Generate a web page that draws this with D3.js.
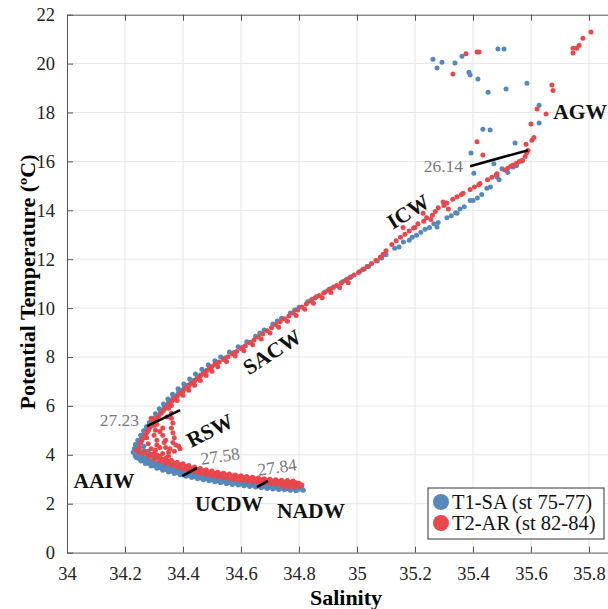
<!DOCTYPE html>
<html>
<head>
<meta charset="utf-8">
<script src="https://cdn.jsdelivr.net/npm/d3@7"></script>
<style>
  body { margin: 0; background: #fff; }
  svg, svg text { font-family: 'Liberation Serif', serif; }
</style>
</head>
<body>
<svg width="608" height="609" font-family="Liberation Serif"></svg>
<script>
// T-S points: [salinity, potential temperature]
var t1Points = [
  // deep tail, blue band (under the red one)
  [34.81,2.60],[34.79,2.58],[34.77,2.61],[34.75,2.63],[34.73,2.64],[34.71,2.66],[34.69,2.68],[34.67,2.71],
  [34.65,2.74],[34.63,2.76],[34.61,2.79],[34.59,2.82],[34.57,2.85],[34.55,2.88],[34.53,2.92],[34.51,2.96],
  [34.49,3.00],[34.47,3.04],[34.45,3.08],[34.43,3.13],[34.41,3.18],[34.39,3.24],[34.37,3.30],[34.35,3.36],
  [34.33,3.43],[34.31,3.51],[34.29,3.60],[34.27,3.70],[34.25,3.83],[34.235,3.96],[34.228,4.10],
  [34.80,2.70],[34.78,2.70],[34.76,2.72],[34.74,2.74],[34.72,2.76],[34.70,2.78],[34.68,2.80],[34.66,2.83],
  [34.64,2.85],[34.62,2.88],[34.60,2.91],[34.58,2.94],[34.56,2.97],[34.54,3.01],[34.52,3.05],[34.50,3.09],
  [34.48,3.14],[34.46,3.18],[34.44,3.23],[34.42,3.28],[34.40,3.34],[34.38,3.40],[34.36,3.47],[34.34,3.54],
  [34.32,3.62],[34.30,3.70],[34.28,3.80],[34.26,3.92],[34.245,4.04],
  [34.80,2.59],[34.78,2.60],[34.76,2.62],[34.74,2.635],[34.72,2.65],[34.70,2.67],[34.68,2.695],[34.66,2.725],
  [34.64,2.75],[34.62,2.775],[34.60,2.805],[34.58,2.835],[34.56,2.865],[34.54,2.90],[34.52,2.94],[34.50,2.98],
  [34.48,3.02],[34.46,3.06],[34.44,3.105],[34.42,3.155],[34.40,3.21],[34.38,3.27],[34.36,3.33],[34.34,3.395],
  [34.32,3.47],[34.30,3.555],[34.28,3.65],[34.26,3.765],[34.245,3.89],
  [34.79,2.70],[34.77,2.71],[34.75,2.73],[34.73,2.75],[34.71,2.77],[34.69,2.79],[34.67,2.815],[34.65,2.84],
  [34.63,2.865],[34.61,2.895],[34.59,2.925],[34.57,2.955],[34.55,2.99],[34.53,3.03],[34.51,3.07],[34.49,3.115],
  [34.47,3.16],[34.45,3.205],[34.43,3.255],[34.41,3.31],[34.39,3.37],[34.37,3.435],[34.35,3.505],[34.33,3.58],
  [34.31,3.66],[34.29,3.75],[34.27,3.86],[34.255,3.98],
  [34.815,2.55],[34.79,2.53],[34.77,2.55],[34.75,2.57],[34.73,2.58],[34.71,2.60],[34.69,2.62],[34.67,2.65],
  [34.65,2.68],[34.63,2.70],[34.61,2.73],[34.59,2.76],[34.57,2.79],[34.55,2.82],[34.53,2.86],[34.51,2.90],
  [34.49,2.94],[34.47,2.98],[34.45,3.02],[34.43,3.07],[34.41,3.12],[34.39,3.18],[34.37,3.24],[34.35,3.30],
  [34.33,3.37],[34.31,3.45],[34.29,3.54],[34.27,3.64],[34.255,3.75],[34.24,3.88],
  // inner loop
  [34.265,4.18],[34.275,4.05],[34.29,3.95],[34.30,3.88],[34.265,4.35],[34.28,4.15],[34.25,4.15],
  // upper branch, outer edge
  [34.232,4.25],[34.236,4.42],[34.244,4.60],[34.254,4.80],[34.264,4.98],[34.274,5.15],[34.284,5.32],[34.294,5.50],
  [34.305,5.68],[34.318,5.88],[34.333,6.08],[34.348,6.28],[34.364,6.48],[34.383,6.70],[34.403,6.90],[34.423,7.10],
  [34.443,7.30],[34.465,7.50],[34.487,7.68],[34.51,7.85],[34.53,8.00],[34.56,8.20],[34.59,8.42],[34.62,8.62],
  [34.65,8.85],[34.68,9.10],[34.71,9.35],[34.74,9.58],[34.77,9.80],[34.80,10.03],[34.83,10.26],[34.86,10.46],
  [34.89,10.66],[34.92,10.86],[34.95,11.08],[34.98,11.28],[35.01,11.50],[35.04,11.70],[35.07,11.93],[35.10,12.18],
  [34.245,4.35],[34.252,4.55],[34.26,4.72],[34.27,4.90],[34.28,5.08],[34.292,5.26],[34.302,5.44],[34.315,5.62],
  [34.328,5.82],[34.342,6.00],[34.358,6.22],[34.376,6.42],[34.396,6.64],[34.416,6.84],[34.438,7.05],[34.46,7.26],
  [34.482,7.46],
  [34.238,4.32],[34.248,4.50],[34.257,4.68],[34.266,4.86],[34.276,5.04],[34.287,5.22],[34.297,5.40],[34.309,5.58],
  [34.322,5.76],[34.335,5.95],[34.35,6.15],[34.366,6.36],[34.385,6.56],[34.405,6.76],[34.427,6.96],[34.449,7.16],
  [34.471,7.38],[34.495,7.58],[34.52,7.78],[34.545,7.96],[34.575,8.18],[34.605,8.40],[34.635,8.60],
  [34.665,8.98],[34.725,9.47],[34.785,9.92],[34.845,10.36],[34.905,10.78],[34.965,11.18],[35.025,11.60],[35.085,12.05],
  // ICW, lower path
  [35.13,12.45],[35.16,12.70],[35.19,12.90],[35.22,13.10],[35.25,13.30],[35.28,13.50],[35.31,13.70],[35.34,13.90],
  [35.37,14.15],[35.40,14.40],[35.43,14.65],[35.46,14.95],[35.49,15.25],[35.52,15.55],[35.55,15.82],[35.57,16.02],
  [35.18,12.78],[35.276,13.32],[35.345,13.88],[35.39,14.40],[35.448,14.90],[35.483,15.36],[35.538,15.77],
  [35.145,12.50],[35.205,12.98],[35.235,13.22],[35.265,13.45],[35.325,13.78],[35.355,14.05],[35.415,14.50],
  // scattered surface points
  [35.262,20.18],[35.276,19.82],[35.293,20.06],[35.338,20.02],[35.362,20.30],[35.486,20.60],[35.507,20.60],
  [35.386,19.65],[35.39,19.53],[35.417,19.37],[35.452,18.83],[35.514,18.96],[35.586,19.20],[35.628,18.30],
  [35.628,17.57],[35.434,17.32],[35.459,17.28],[35.545,16.75],[35.393,16.34],[35.403,15.52],[35.472,15.90],
  [35.50,15.70]
];

var t2Points = [
  // deep tail, red band above the blue one
  [34.80,2.72],[34.78,2.76],[34.76,2.78],[34.74,2.79],[34.72,2.81],[34.70,2.83],[34.68,2.85],[34.66,2.88],
  [34.64,2.90],[34.62,2.93],[34.60,2.96],[34.58,2.99],[34.56,3.02],[34.54,3.06],[34.52,3.10],[34.50,3.14],
  [34.48,3.19],[34.46,3.24],[34.44,3.30],[34.42,3.36],[34.40,3.42],[34.38,3.49],[34.36,3.57],[34.34,3.65],
  [34.32,3.74],[34.30,3.84],[34.28,3.94],[34.26,4.04],[34.245,4.14],
  [34.79,2.86],[34.77,2.88],[34.75,2.89],[34.73,2.91],[34.71,2.93],[34.69,2.95],[34.67,2.98],[34.65,3.01],
  [34.63,3.04],[34.61,3.07],[34.59,3.10],[34.57,3.13],[34.55,3.17],[34.53,3.21],[34.51,3.25],[34.49,3.30],
  [34.47,3.35],[34.45,3.40],[34.43,3.46],[34.41,3.52],[34.39,3.59],[34.37,3.66],[34.35,3.74],[34.33,3.82],
  [34.31,3.92],[34.29,4.02],[34.27,4.12],
  [34.81,2.76],[34.79,2.79],[34.77,2.82],[34.75,2.835],[34.73,2.85],[34.71,2.87],[34.69,2.89],[34.67,2.915],
  [34.65,2.945],[34.63,2.97],[34.61,3.00],[34.59,3.03],[34.57,3.06],[34.55,3.10],[34.53,3.14],[34.51,3.18],
  [34.49,3.23],[34.47,3.28],[34.45,3.33],[34.43,3.39],[34.41,3.45],[34.39,3.52],[34.37,3.60],[34.35,3.68],
  [34.33,3.77],[34.31,3.87],[34.29,3.97],[34.27,4.07],
  [34.78,2.93],[34.76,2.95],[34.74,2.96],[34.72,2.98],[34.70,3.00],[34.68,3.02],[34.66,3.05],[34.64,3.08],
  [34.62,3.11],[34.60,3.14],[34.58,3.17],[34.56,3.21],[34.54,3.25],[34.52,3.29],[34.50,3.34],[34.48,3.39],
  [34.46,3.44],[34.44,3.50],[34.42,3.56],[34.40,3.63],[34.38,3.70],[34.36,3.78],[34.34,3.86],[34.32,3.95],
  [34.30,4.05],
  [34.785,2.66],[34.765,2.68],[34.745,2.70],[34.80,2.84],[34.78,2.90],
  // upper branch, inside the blue one
  [34.25,4.30],[34.255,4.50],[34.265,4.70],[34.275,4.90],[34.285,5.10],[34.295,5.30],[34.31,5.50],[34.325,5.70],
  [34.34,5.90],[34.355,6.10],[34.37,6.30],[34.39,6.50],[34.41,6.72],[34.43,6.92],[34.45,7.12],[34.47,7.32],
  [34.49,7.52],[34.51,7.70],[34.54,7.90],[34.57,8.12],[34.60,8.35],[34.63,8.58],[34.66,8.82],[34.69,9.07],
  [34.72,9.32],[34.75,9.56],[34.78,9.80],[34.81,10.05],[34.84,10.30],[34.87,10.52],[34.90,10.72],[34.93,10.92],
  [34.96,11.13],[34.99,11.35],[35.02,11.58],[35.05,11.82],[35.08,12.08],[35.10,12.35],
  [34.36,6.02],[34.38,6.22],[34.40,6.44],[34.42,6.64],[34.44,6.84],[34.46,7.04],[34.48,7.24],[34.50,7.42],
  [34.52,7.60],[34.55,7.82],[34.58,8.04],[34.61,8.26],[34.64,8.50],[34.67,8.74],[34.70,8.98],[34.73,9.22],
  [34.76,9.46],[34.79,9.70],[34.82,9.95],[34.85,10.20],[34.88,10.42],[34.91,10.64],[34.94,10.84],[34.97,11.04],
  [34.258,4.60],[34.27,4.80],[34.28,5.00],[34.29,5.20],[34.303,5.40],[34.317,5.60],[34.332,5.80],[34.347,6.00],
  [34.363,6.20],[34.38,6.40],[34.40,6.60],[34.42,6.82],[34.44,7.02],[34.46,7.22],[34.48,7.42],[34.50,7.61],
  [34.525,7.80],[34.555,8.01],[34.585,8.23],[34.615,8.46],[34.645,8.70],[34.675,8.94],[34.705,9.20],[34.735,9.44],
  [34.765,9.68],[34.795,9.92],[34.825,10.17],[34.855,10.41],[34.885,10.62],[34.915,10.82],[34.945,11.03],[34.975,11.24],
  [35.005,11.46],[35.035,11.70],[35.065,11.95],[35.09,12.20],
  // RSW interior
  [34.30,5.40],[34.30,5.20],[34.305,5.00],[34.30,4.80],[34.31,4.60],[34.31,4.40],[34.305,4.20],[34.31,4.00],
  [34.32,3.90],[34.33,5.10],[34.33,4.80],[34.335,4.50],[34.34,4.30],[34.35,4.10],[34.36,5.70],[34.36,5.50],
  [34.365,5.30],[34.36,5.10],[34.365,4.90],[34.37,4.70],[34.365,4.50],[34.375,4.40],[34.385,4.35],[34.39,4.25],
  [34.37,4.15],[34.35,3.95],[34.34,4.60],[34.32,4.30],[34.29,4.25],[34.28,4.45],[34.275,4.70],[34.28,5.00],
  [34.29,5.50],[34.345,5.55],[34.35,5.90],[34.31,5.25],[34.32,4.95],[34.355,4.25],[34.33,4.05],[34.24,4.20],
  // ICW, upper path
  [35.12,12.60],[35.15,12.90],[35.18,13.15],[35.21,13.45],[35.24,13.70],[35.27,13.95],[35.30,14.20],[35.33,14.45],
  [35.36,14.65],[35.39,14.85],[35.42,15.05],[35.45,15.25],[35.48,15.45],[35.51,15.65],[35.53,15.80],[35.55,15.92],
  [35.57,16.05],[35.58,16.20],[35.585,16.35],[35.59,16.45],
  [35.20,13.30],[35.23,13.55],[35.26,13.80],[35.28,14.10],[35.31,14.30],[35.159,13.30],[35.228,13.88],[35.297,14.34],
  [35.366,14.70],[35.424,15.10],[35.483,15.50],[35.538,15.85],[35.52,15.72],[35.56,16.00],
  [35.135,12.75],[35.165,13.02],[35.195,13.28],[35.255,13.62],[35.315,14.05],[35.345,14.55],[35.405,14.95],[35.465,15.35],
  // scattered surface points
  [35.376,20.40],[35.414,20.47],[35.421,20.47],[35.331,19.57],[35.672,19.12],[35.676,18.90],[35.652,17.94],
  [35.414,16.80],[35.434,16.26],[35.60,17.53],[35.621,18.14],[35.603,16.87],[35.61,16.98],[35.583,16.70],
  [35.745,20.43],[35.745,20.63],[35.758,20.63],[35.766,20.75],[35.779,21.04],[35.807,21.29]
];

var series = [
  {name: "T1-SA (st 75-77)", color: "#5588bb", points: t1Points},
  {name: "T2-AR (st 82-84)", color: "#e8474c", points: t2Points}
];

// isopycnal segments and their labels
var isopycnals = [
  {label: "26.14", from: [35.39, 15.80], to: [35.59, 16.46]},
  {label: "27.23", from: [34.276, 5.17], to: [34.39, 5.83]},
  {label: "27.58", from: [34.397, 3.13], to: [34.448, 3.46]},
  {label: "27.84", from: [34.655, 2.68], to: [34.693, 2.93]}
];

var waterMasses = ["AGW", "ICW", "SACW", "RSW", "AAIW", "UCDW", "NADW"];

var xTicks = [34, 34.2, 34.4, 34.6, 34.8, 35, 35.2, 35.4, 35.6, 35.8];
var yTicks = [0, 2, 4, 6, 8, 10, 12, 14, 16, 18, 20, 22];

var svg = d3.select("svg");
var margin = {top: 14.7, left: 67};

var xScale = d3.scaleLinear().domain([34, 35.87]).range([margin.left, margin.left + 1.87 * 290]);
var yScale = d3.scaleLinear().domain([0, 22]).range([552.6, margin.top]);

// grid
var grid = svg.append("g");
grid.selectAll(".gx").data(xTicks.slice(1)).enter().append("line")
  .attr("x1", function(d) { return xScale(d); }).attr("x2", function(d) { return xScale(d); })
  .attr("y1", yScale(0)).attr("y2", yScale(22))
  .attr("stroke", "#e6e6e6").attr("stroke-width", 1);
grid.selectAll(".gy").data(yTicks.slice(1, -1)).enter().append("line")
  .attr("x1", xScale(34)).attr("x2", xScale(35.87))
  .attr("y1", function(d) { return yScale(d); }).attr("y2", function(d) { return yScale(d); })
  .attr("stroke", "#e6e6e6").attr("stroke-width", 1);

// axes, ticks drawn inward
var fmt = function(d) { return String(+d.toFixed(1)); };
var gX = svg.append("g")
  .attr("transform", "translate(0," + yScale(0) + ")")
  .call(d3.axisBottom(xScale).tickValues(xTicks).tickFormat(fmt).tickSizeInner(-6).tickSizeOuter(0).tickPadding(14));
var gXTop = svg.append("g")
  .attr("transform", "translate(0," + yScale(22) + ")")
  .call(d3.axisTop(xScale).tickValues(xTicks).tickFormat("").tickSizeInner(-6).tickSizeOuter(0));
var gY = svg.append("g")
  .attr("transform", "translate(" + xScale(34) + ",0)")
  .call(d3.axisLeft(yScale).tickValues(yTicks).tickSizeInner(-6).tickSizeOuter(0).tickPadding(12));

svg.selectAll("g").attr("font-family", "Liberation Serif");
svg.selectAll(".domain").attr("stroke", "#555");
svg.selectAll(".tick line").attr("stroke", "#555");
svg.selectAll(".tick text")
  .attr("font-family", "Liberation Serif")
  .attr("font-size", 18.5)
  .attr("fill", "#222");

// points
series.forEach(function(s) {
  svg.append("g").selectAll("circle").data(s.points).enter().append("circle")
    .attr("cx", function(d) { return xScale(d[0]); })
    .attr("cy", function(d) { return yScale(d[1]); })
    .attr("r", 2.5)
    .attr("fill", s.color);
});

// isopycnal lines
svg.append("g").selectAll("line").data(isopycnals).enter().append("line")
  .attr("x1", function(d) { return xScale(d.from[0]); })
  .attr("y1", function(d) { return yScale(d.from[1]); })
  .attr("x2", function(d) { return xScale(d.to[0]); })
  .attr("y2", function(d) { return yScale(d.to[1]); })
  .attr("stroke", "#000").attr("stroke-width", 2.6);

var isoPos = [
  {x: 463, y: 172, anchor: "end", rot: 0},
  {x: 139, y: 426, anchor: "end", rot: 0},
  {x: 221, y: 462, anchor: "middle", rot: -8},
  {x: 278, y: 473, anchor: "middle", rot: -8}
];
svg.append("g").selectAll("text").data(isopycnals).enter().append("text")
  .attr("transform", function(d, i) { var p = isoPos[i]; return "translate(" + p.x + "," + p.y + ") rotate(" + p.rot + ")"; })
  .attr("text-anchor", function(d, i) { return isoPos[i].anchor; })
  .attr("font-family", "Liberation Serif")
  .attr("font-size", 17.5)
  .attr("fill", "#7a7a7a")
  .text(function(d) { return d.label; });

// water mass names
var massPos = [
  {x: 580, y: 119, rot: 0},
  {x: 412, y: 218, rot: -32},
  {x: 276, y: 358, rot: -33},
  {x: 213, y: 437, rot: -27},
  {x: 104, y: 488, rot: 0},
  {x: 229, y: 511, rot: 0},
  {x: 311, y: 518, rot: 0}
];
svg.append("g").selectAll("text").data(waterMasses).enter().append("text")
  .attr("transform", function(d, i) { var p = massPos[i]; return "translate(" + p.x + "," + p.y + ") rotate(" + p.rot + ")"; })
  .attr("text-anchor", "middle")
  .attr("font-family", "Liberation Serif")
  .attr("font-size", 21.5)
  .attr("font-weight", "bold")
  .attr("fill", "#111")
  .text(function(d) { return d; });

// axis titles
svg.append("text")
  .attr("x", 346).attr("y", 605)
  .attr("text-anchor", "middle")
  .attr("font-family", "Liberation Serif")
  .attr("font-size", 22).attr("font-weight", "bold")
  .text("Salinity");
svg.append("text")
  .attr("transform", "translate(35,282) rotate(-90)")
  .attr("text-anchor", "middle")
  .attr("font-family", "Liberation Serif")
  .attr("font-size", 22).attr("font-weight", "bold")
  .text("Potential Temperature (ºC)");

// legend
var legend = svg.append("g").attr("transform", "translate(428,488)");
legend.append("rect")
  .attr("width", 176).attr("height", 51)
  .attr("fill", "#fff").attr("stroke", "#333").attr("stroke-width", 1);
var items = legend.selectAll(".item").data(series).enter().append("g")
  .attr("transform", function(d, i) { return "translate(0," + (14 + i * 21) + ")"; });
items.append("circle").attr("cx", 13).attr("cy", 0).attr("r", 8).attr("fill", function(d) { return d.color; });
items.append("text").attr("x", 24).attr("y", 6.5)
  .attr("font-family", "Liberation Serif")
  .attr("font-size", 20.5).attr("fill", "#111")
  .text(function(d) { return d.name; });
</script>
</body>
</html>
